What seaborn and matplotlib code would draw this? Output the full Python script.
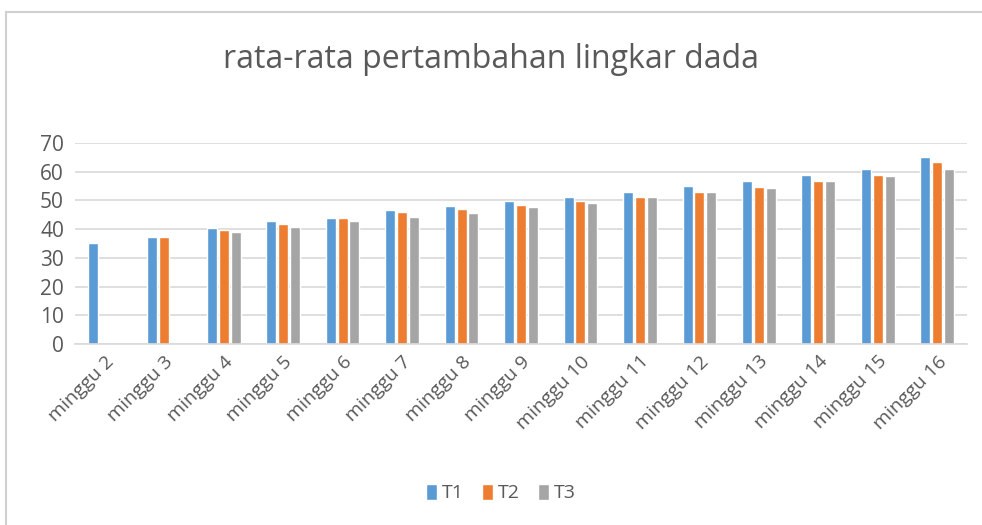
import seaborn as sns
import matplotlib.pyplot as plt
import matplotlib.patches as mpatches
import numpy as np
import pandas as pd

# data
weeks = [f"minggu {i}" for i in range(2, 17)]
t1 = [35.1, 37.4, 40.5, 42.8, 44.0, 46.7, 48.2, 49.8, 51.3, 53.1, 55.0, 56.9, 58.9, 60.8, 65.0]
t2 = [np.nan, 37.1, 39.8, 41.7, 44.0, 46.0, 47.1, 48.3, 49.8, 51.3, 52.8, 54.7, 56.9, 58.9, 63.5]
t3 = [np.nan, np.nan, 39.0, 40.6, 42.9, 44.4, 45.6, 47.8, 49.0, 51.3, 52.8, 54.3, 56.6, 58.4, 61.1]
series = {"T1": t1, "T2": t2, "T3": t3}
colors = ["#5B9BD5", "#ED7D31", "#A5A5A5"]
title = "rata-rata pertambahan lingkar dada"

rows = []
for name, vals in series.items():
    for w, v in zip(weeks, vals):
        rows.append({"minggu": w, "nilai": v, "seri": name})
df = pd.DataFrame(rows)

sns.set_theme(style="white")
plt.rcParams['font.family'] = ['Open Sans', 'DejaVu Sans']
text_col = "#595959"
grid_col = "#D9D9D9"

fig = plt.figure(figsize=(9.82, 5.25), dpi=100)
ax = fig.add_axes([75 / 982, 1 - 344 / 525, 892 / 982, 201 / 525])

sns.barplot(data=df, x="minggu", y="nilai", hue="seri", order=weeks,
            hue_order=list(series.keys()), palette=colors, width=0.6,
            saturation=1, errorbar=None, ax=ax)

# leave a small gap between neighbouring bars
for p in ax.patches:
    w = p.get_width()
    p.set_x(p.get_x() + w * 0.08)
    p.set_width(w * 0.84)

ax.set_ylim(0, 70)
ax.set_yticks(range(0, 71, 10))
ax.set_xlim(-0.5, len(weeks) - 0.5)
ax.yaxis.grid(True, color=grid_col, linewidth=1.2)
ax.set_axisbelow(True)
for side in ["top", "right", "left"]:
    ax.spines[side].set_visible(False)
ax.spines["bottom"].set_color(grid_col)
ax.spines["bottom"].set_linewidth(1.2)
ax.set_xlabel("")
ax.set_ylabel("")
ax.tick_params(axis="y", labelsize=15, colors=text_col, length=0, pad=8)
ax.tick_params(axis="x", labelsize=14, colors=text_col, length=0, pad=6)
plt.setp(ax.get_xticklabels(), rotation=45, ha="right", rotation_mode="anchor")

fig.text(0.5, 1 - 60 / 525, title, ha="center", va="center",
         fontsize=23, color=text_col)

sns.move_legend(ax, "center", bbox_to_anchor=(0.51, 1 - 493 / 525),
                bbox_transform=fig.transFigure, ncol=3, frameon=False,
                title=None, fontsize=14, handlelength=0.6, handleheight=0.9,
                handletextpad=0.25, columnspacing=0.9)
for t in ax.get_legend().get_texts():
    t.set_color(text_col)

# chart area border (cut at right and bottom like the reference)
fig.patches.append(mpatches.Rectangle((6 / 982, -0.02), 1.1, 1 - 12 / 525 + 0.02,
                                      transform=fig.transFigure, fill=False,
                                      edgecolor="#D0D0D0", linewidth=1.5))

fig.savefig("out.png", dpi=100)
